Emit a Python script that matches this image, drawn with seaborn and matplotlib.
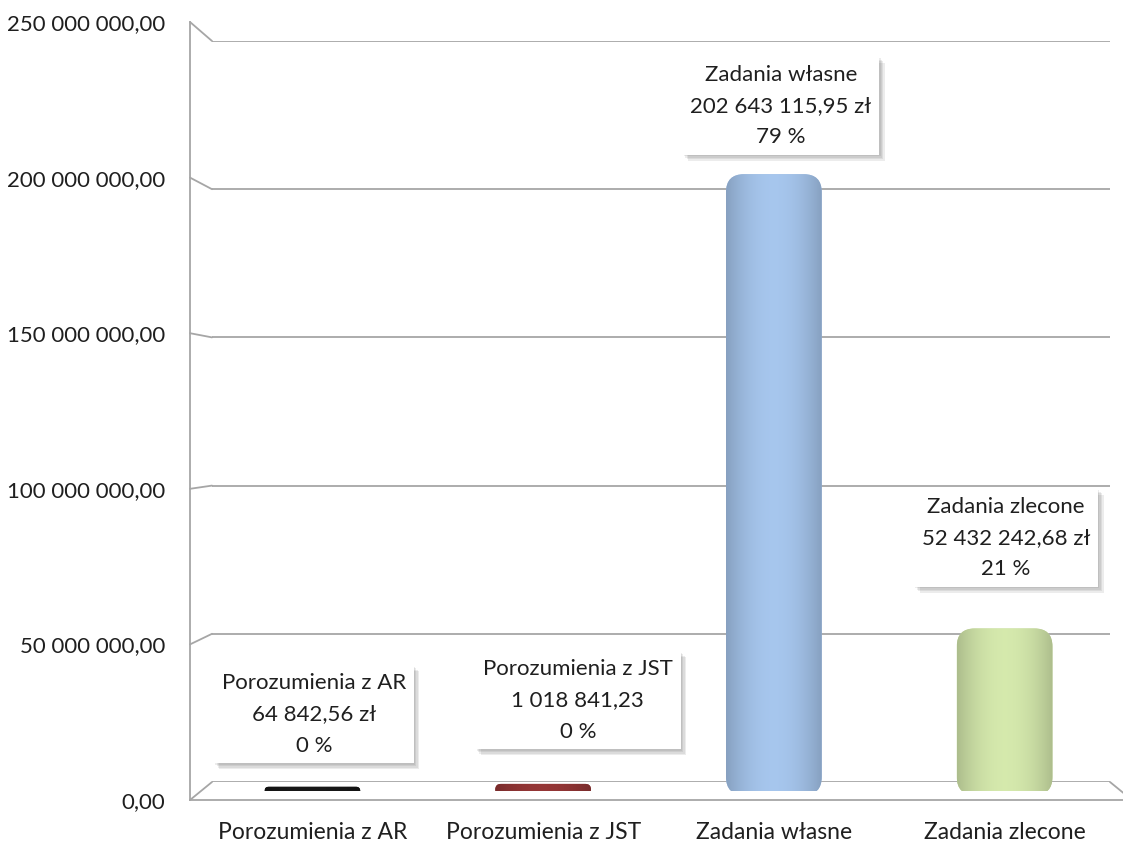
# %%
import numpy as np
import pandas as pd
import matplotlib
matplotlib.use('Agg')
import matplotlib.pyplot as plt
import matplotlib.patheffects as pe
from matplotlib.patches import ConnectionPatch, FancyBboxPatch
from matplotlib.ticker import FuncFormatter
import seaborn as sns

# %%
# Data
categories = ['Porozumienia z AR', 'Porozumienia z JST', 'Zadania własne', 'Zadania zlecone']
values = [64842.56, 1018841.23, 202643115.95, 52432242.68]
shares = [0, 0, 79, 21]
units = [' zł', '', ' zł', ' zł']
colors = ['#161616', '#8c3333', '#9dbbe0', '#c9dca3']
y_ticks = [0, 50e6, 100e6, 150e6, 200e6, 250e6]


def pl_number(v):
    return f"{v:,.2f}".replace(',', ' ').replace('.', ',')


df = pd.DataFrame({'kategoria': categories, 'kwota': values})

# %%
sns.set_theme(style='white')
plt.rcParams['font.family'] = ['Lato', 'DejaVu Sans']
plt.rcParams['text.color'] = '#1f1f1f'
grid_color = '#a6a6a6'
fs = 16

W, H = 1123, 846
fig = plt.figure(figsize=(W / 100, H / 100), dpi=100)


def px_axes(left, top, right, bottom):
    return fig.add_axes([left / W, 1 - bottom / H, (right - left) / W, (bottom - top) / H])


# front plane: value axis + floor edge
ax_front = px_axes(190, 22, 1132, 800)
ax_front.set_ylim(0, 250e6)
ax_front.set_yticks(y_ticks)
ax_front.yaxis.set_major_formatter(FuncFormatter(lambda v, _: pl_number(v)))
ax_front.set_xticks([])
ax_front.tick_params(axis='y', length=0, pad=18, labelsize=fs, labelcolor='#1f1f1f')
for s in ['top', 'right']:
    ax_front.spines[s].set_visible(False)
for s in ['left', 'bottom']:
    ax_front.spines[s].set_color(grid_color)
    ax_front.spines[s].set_linewidth(1.3)

# back wall: gridlines
ax_back = px_axes(212, 41, 1110, 782)
ax_back.set_facecolor('none')
ax_back.set_ylim(0, 250e6)
ax_back.set_yticks(y_ticks)
ax_back.set_yticklabels([])
ax_back.set_xticks([])
ax_back.tick_params(length=0)
ax_back.grid(axis='y', color=grid_color, lw=1.3)
for s in ax_back.spines.values():
    s.set_visible(False)

# perspective connectors between front axis and back wall
for v in y_ticks:
    fig.add_artist(ConnectionPatch(xyA=(0, v), coordsA=ax_front.get_yaxis_transform(),
                                   xyB=(0, v), coordsB=ax_back.get_yaxis_transform(),
                                   color=grid_color, lw=1.3))
fig.add_artist(ConnectionPatch(xyA=(1, 0), coordsA=ax_front.get_yaxis_transform(),
                               xyB=(1, 0), coordsB=ax_back.get_yaxis_transform(),
                               color=grid_color, lw=1.3))

# %%
# Bars
ax = px_axes(197, 35, 1120, 791)
ax.set_facecolor('none')
sns.barplot(data=df, x='kategoria', y='kwota', hue='kategoria', palette=colors,
            width=0.38, saturation=1, legend=False, ax=ax)
ax.set_xlim(-0.5, 3.5)
ax.set_ylim(0, 250e6)

x_px = np.diff(ax.transData.transform([(0, 0), (1, 0)])[:, 0])[0]
y_px = np.diff(ax.transData.transform([(0, 0), (0, 1e6)])[:, 1])[0] / 1e6
aspect = x_px / y_px

shade = np.linspace(-1, 1, 80)
for p in list(ax.patches):
    x0, w, h = p.get_x(), p.get_width(), p.get_height()
    base = np.array(p.get_facecolor()[:3])
    pad = 4 / x_px
    r = min(18, (h * y_px + 8) / 2) / x_px
    box = FancyBboxPatch((x0, 0), w, h, boxstyle=f"round,pad={pad},rounding_size={r}",
                         mutation_aspect=aspect, fc=base, ec='none', zorder=2)
    ax.add_patch(box)
    # mild cylinder-like shading
    light = 0.86 + 0.2 * (1 - shade ** 2)
    rgb = np.clip(base[None, :] * light[:, None], 0, 1)
    img = np.tile(rgb[None, :, :], (2, 1, 1))
    im = ax.imshow(img, extent=[x0 - pad, x0 + w + pad, -pad * aspect, h + pad * aspect],
                   aspect='auto', zorder=3, interpolation='bilinear')
    im.set_clip_path(box)
    p.remove()

ax.set_xlim(-0.5, 3.5)
ax.set_ylim(0, 250e6)
ax.set_yticks([])
ax.set_xlabel('')
ax.set_ylabel('')
ax.tick_params(axis='x', length=0, pad=22, labelsize=fs + 0.5, labelcolor='#1f1f1f')
for s in ax.spines.values():
    s.set_visible(False)

# %%
# Data labels
label_offsets = [(1, 55), (25, 63), (5, 52), (1, 68)]
shadow = [pe.withSimplePatchShadow(offset=(k, -k), shadow_rgbFace='0.3', alpha=0.1)
          for k in (4, 3, 2, 1)]
for i, cat in enumerate(categories):
    txt = f"{cat}\n{pl_number(values[i])}{units[i]}\n{shares[i]} %"
    ann = ax.annotate(txt, xy=(i, values[i]), xytext=label_offsets[i], textcoords='offset points',
                      ha='center', va='center', fontsize=fs, linespacing=1.7, zorder=6,
                      bbox=dict(boxstyle='square,pad=0.35', fc='white', ec='none'))
    ann.get_bbox_patch().set_path_effects(shadow + [pe.Normal()])

fig.savefig('out.png', dpi=100)
plt.close(fig)
